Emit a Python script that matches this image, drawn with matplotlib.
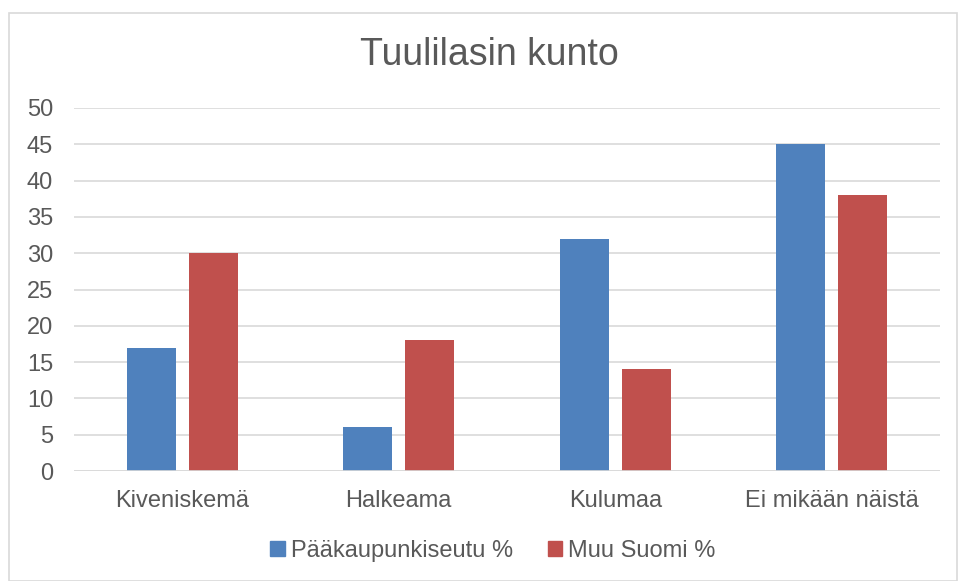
import numpy as np
import matplotlib.pyplot as plt
from matplotlib.patches import Rectangle, Patch

plt.rcParams['font.family'] = ['Liberation Sans', 'DejaVu Sans']

categories = ['Kiveniskemä', 'Halkeama', 'Kulumaa', 'Ei mikään näistä']
paakaupunkiseutu = [17, 6, 32, 45]
muu_suomi = [30, 18, 14, 38]
series_names = ['Pääkaupunkiseutu %', 'Muu Suomi %']
yticks = [0, 5, 10, 15, 20, 25, 30, 35, 40, 45, 50]

blue = '#4F81BD'
red = '#C0504D'
text_col = '#595959'
grid_col = '#D9D9D9'

fig = plt.figure(figsize=(9.58, 5.81), dpi=100)
ax = fig.add_axes([74 / 958, 1 - 471 / 581, (940 - 74) / 958, (471 - 108) / 581])

x = np.arange(len(categories))
w = 0.226
off = 0.143
ax.bar(x - off, paakaupunkiseutu, w, color=blue, zorder=3)
ax.bar(x + off, muu_suomi, w, color=red, zorder=3)

ax.set_xlim(-0.5, len(categories) - 0.5)
ax.set_ylim(0, 50)
ax.set_yticks(yticks)
ax.set_xticks(x)
ax.set_xticklabels(categories)
ax.tick_params(axis='both', length=0, labelsize=17, colors=text_col)
ax.tick_params(axis='y', pad=15)
ax.tick_params(axis='x', pad=14)
ax.grid(axis='y', color=grid_col, linewidth=1.2, zorder=0)
for s in ax.spines.values():
    s.set_visible(False)
ax.axhline(0, color=grid_col, linewidth=1.2, zorder=4)

fig.text(489 / 958, 1 - 55 / 581, 'Tuulilasin kunto', ha='center', va='center',
         fontsize=27, color=text_col)

handles = [Patch(color=blue), Patch(color=red)]
fig.legend(handles, series_names, loc='center', bbox_to_anchor=(493 / 958, 1 - 551 / 581),
           ncol=2, frameon=False, fontsize=17, labelcolor=text_col,
           handlelength=0.6, handleheight=0.6, handletextpad=0.25, columnspacing=1.5)

fig.patches.append(Rectangle((9 / 958, 0.5 / 581), 948 / 958, (580 - 12) / 581,
                             transform=fig.transFigure, fill=False,
                             edgecolor=grid_col, linewidth=1.2))

fig.savefig('out.png', dpi=100)
